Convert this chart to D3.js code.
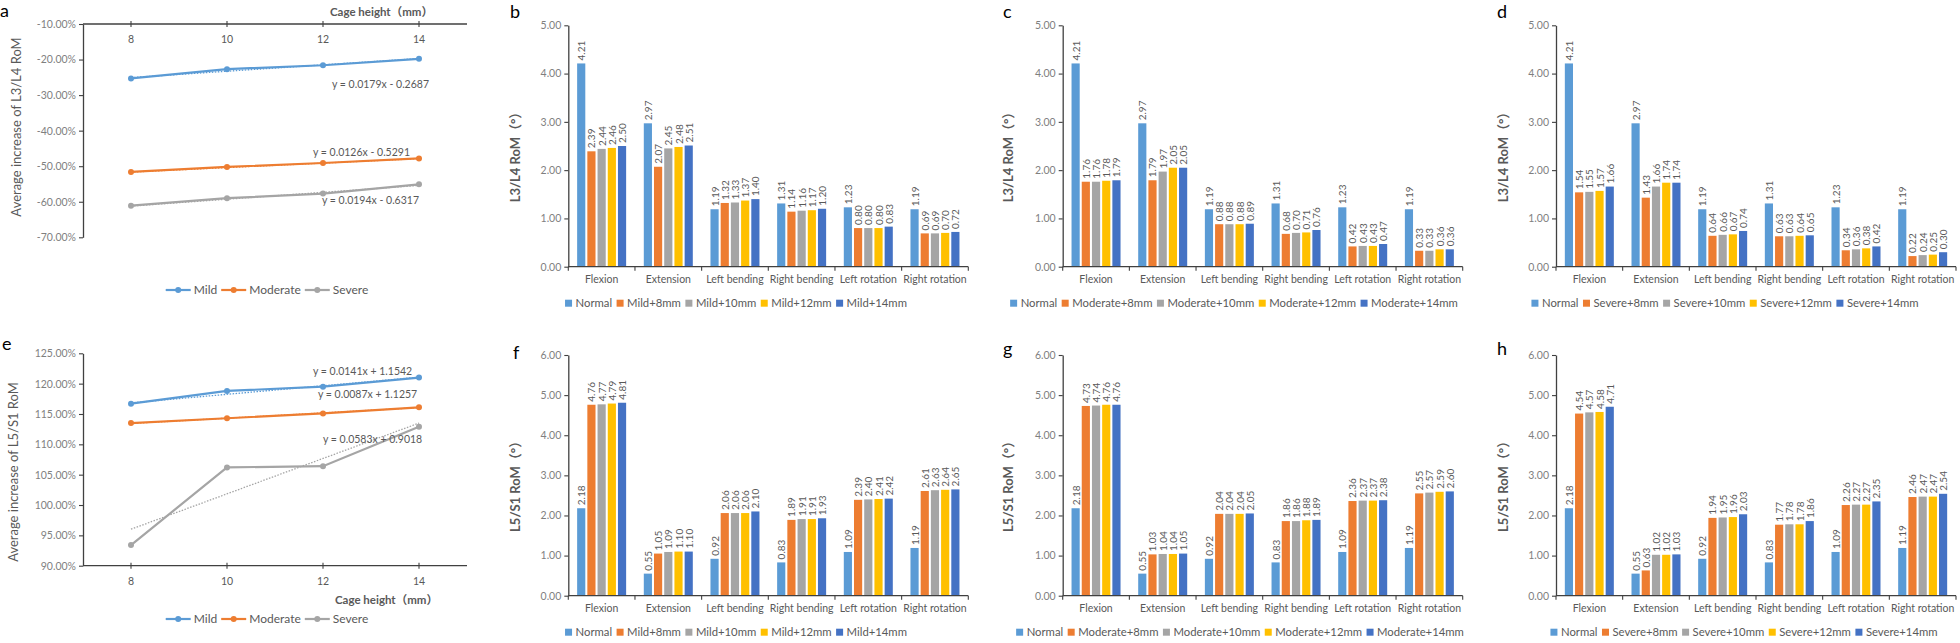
<!DOCTYPE html>
<html><head><meta charset="utf-8">
<script src="https://cdn.jsdelivr.net/npm/d3@7"></script>
<style>
body{margin:0;background:#fff;}
svg{display:block;font-family:Lato,"Open Sans","Noto Sans CJK SC",sans-serif;}
</style>
</head><body>
<svg id="chart" width="1960" height="643"></svg>
<script>
// ---------------- DATA ----------------
const categories = ["Flexion","Extension","Left bending","Right bending","Left rotation","Right rotation"];
const cageHeights = ["8","10","12","14"];
const severities = ["Mild","Moderate","Severe"];
const lineColors = ["#5b9bd5","#ed7d31","#a5a5a5"];
const barColors = ["#5b9bd5","#ed7d31","#a5a5a5","#ffc000","#4472c4"];

// Panel a: average increase of L3/L4 RoM (%)
const l34Mild     = [-25.3,-22.7,-21.6,-19.8];
const l34Moderate = [-51.6,-50.2,-49.1,-47.8];
const l34Severe   = [-61.1,-59.0,-57.7,-55.1];
const l34Slopes     = [0.0179,0.0126,0.0194];
const l34Intercepts = [-0.2687,-0.5291,-0.6317];
const l34Equations  = ["y = 0.0179x - 0.2687","y = 0.0126x - 0.5291","y = 0.0194x - 0.6317"];
const l34YTicks = [-10,-20,-30,-40,-50,-60,-70];

// Panel e: average increase of L5/S1 RoM (%)
const l5Mild     = [116.7,118.8,119.5,121.0];
const l5Moderate = [113.5,114.3,115.1,116.1];
const l5Severe   = [93.4,106.2,106.4,112.9];
const l5Slopes     = [0.0141,0.0087,0.0583];
const l5Intercepts = [1.1542,1.1257,0.9018];
const l5Equations  = ["y = 0.0141x + 1.1542","y = 0.0087x + 1.1257","y = 0.0583x + 0.9018"];
const l5YTicks = [125,120,115,110,105,100,95,90];

// L3/L4 RoM (deg)
const l34Normal   = [4.21,2.97,1.19,1.31,1.23,1.19];
const l34Mild8    = [2.39,2.07,1.32,1.14,0.80,0.69];
const l34Mild10   = [2.44,2.45,1.33,1.16,0.80,0.69];
const l34Mild12   = [2.46,2.48,1.37,1.17,0.80,0.70];
const l34Mild14   = [2.50,2.51,1.40,1.20,0.83,0.72];
const l34Mod8     = [1.76,1.79,0.88,0.68,0.42,0.33];
const l34Mod10    = [1.76,1.97,0.88,0.70,0.43,0.33];
const l34Mod12    = [1.78,2.05,0.88,0.71,0.43,0.36];
const l34Mod14    = [1.79,2.05,0.89,0.76,0.47,0.36];
const l34Sev8     = [1.54,1.43,0.64,0.63,0.34,0.22];
const l34Sev10    = [1.55,1.66,0.66,0.63,0.36,0.24];
const l34Sev12    = [1.57,1.74,0.67,0.64,0.38,0.25];
const l34Sev14    = [1.66,1.74,0.74,0.65,0.42,0.30];
const l34BarTicks = [0,1,2,3,4,5];

// L5/S1 RoM (deg)
const l5Normal   = [2.18,0.55,0.92,0.83,1.09,1.19];
const l5Mild8    = [4.76,1.05,2.06,1.89,2.39,2.61];
const l5Mild10   = [4.77,1.09,2.06,1.91,2.40,2.63];
const l5Mild12   = [4.79,1.10,2.06,1.91,2.41,2.64];
const l5Mild14   = [4.81,1.10,2.10,1.93,2.42,2.65];
const l5Mod8     = [4.73,1.03,2.04,1.86,2.36,2.55];
const l5Mod10    = [4.74,1.04,2.04,1.86,2.37,2.57];
const l5Mod12    = [4.76,1.04,2.04,1.88,2.37,2.59];
const l5Mod14    = [4.76,1.05,2.05,1.89,2.38,2.60];
const l5Sev8     = [4.54,0.63,1.94,1.77,2.26,2.46];
const l5Sev10    = [4.57,1.02,1.95,1.78,2.27,2.47];
const l5Sev12    = [4.58,1.02,1.96,1.78,2.27,2.47];
const l5Sev14    = [4.71,1.03,2.03,1.86,2.35,2.54];
const l5BarTicks = [0,1,2,3,4,5,6];

const suffixes = ["+8mm","+10mm","+12mm","+14mm"];

// ---------------- DRAWING ----------------
const svg = d3.select("#chart");
const TXT = "#595959", TICK = "#7f7f7f", AX = "#404040";

function styleAxis(sel, color, size){
  sel.select(".domain").attr("stroke", AX).attr("stroke-width", 1.3);
  sel.selectAll(".tick line").attr("stroke", AX).attr("stroke-width", 1.1);
  sel.selectAll(".tick text").attr("fill", color).style("font-size", size+"px").style("font-family","Lato,sans-serif");
}

function letter(ch, x, y){
  svg.append("text").attr("x", x).attr("y", y).text(ch)
    .attr("fill","#000").style("font-size","18px").style("font-family","Lato,sans-serif");
}

function linePanel(p){
  const g = svg.append("g");
  const x = d3.scalePoint().domain(cageHeights).range([83, 467]).padding(0.5);
  const y = d3.scaleLinear().domain(p.domain).range([p.bottom, p.top]);
  const ya = g.append("g").attr("transform","translate(83,0)")
    .call(d3.axisLeft(y).tickValues(p.yTicks).tickFormat(d => d.toFixed(2)+"%").tickSize(4).tickSizeOuter(0).tickPadding(3));
  styleAxis(ya, TICK, 10.5);
  g.append("line").attr("x1",83).attr("x2",467).attr("y1",p.xAxisY).attr("y2",p.xAxisY)
    .attr("stroke",AX).attr("stroke-width",1.3);
  g.selectAll(null).data(cageHeights).join("line")
    .attr("x1", d=>x(d)).attr("x2", d=>x(d)).attr("y1", p.xAxisY-3).attr("y2", p.xAxisY+3)
    .attr("stroke",AX).attr("stroke-width",1.1);
  g.selectAll(null).data(cageHeights).join("text")
    .attr("x", d=>x(d)).attr("y", p.xLabelY).attr("dy","0.35em").attr("text-anchor","middle")
    .attr("fill",TXT).style("font-size","10.5px").text(d=>d);
  g.append("text").attr("x", p.cageX).attr("y", p.cageY).attr("dy","0.35em")
    .attr("fill",TXT).style("font-size","11.5px").style("font-weight","bold").text("Cage height（mm）");
  g.append("text").attr("transform",`translate(${p.titleX},${p.titleY}) rotate(-90)`)
    .attr("text-anchor","middle").attr("dy","0.35em").attr("fill",TXT).style("font-size","13px").text(p.yTitle);
  p.series.forEach((s,i)=>{
    const pts = cageHeights.map((h,k)=>[x(h), y(100*(p.slopes[i]*(k+1)+p.intercepts[i]))]);
    g.append("path").attr("d", d3.line()([pts[0], pts[3]])).attr("fill","none")
      .attr("stroke", lineColors[i]).attr("stroke-width",1.3).attr("stroke-dasharray","1.5,1.5");
  });
  p.series.forEach((s,i)=>{
    g.append("path").datum(s).attr("fill","none").attr("stroke",lineColors[i]).attr("stroke-width",2.2)
      .attr("d", d3.line().x((d,k)=>x(cageHeights[k])).y(d=>y(d)));
    g.selectAll(null).data(s).join("circle").attr("cx",(d,k)=>x(cageHeights[k])).attr("cy",d=>y(d))
      .attr("r",3).attr("fill",lineColors[i]);
  });
  p.equations.forEach((e,i)=>{
    g.append("text").attr("x", p.eqPos[i][0]).attr("y", p.eqPos[i][1]).attr("dy","0.35em")
      .attr("fill",TXT).style("font-size","10.5px").text(e);
  });
  const lg = g.append("g");
  let cx = 0;
  severities.forEach((n,i)=>{
    const it = lg.append("g").attr("transform",`translate(${cx},0)`);
    it.append("line").attr("x1",0).attr("x2",25).attr("stroke",lineColors[i]).attr("stroke-width",2.2);
    it.append("circle").attr("cx",12.5).attr("r",3).attr("fill",lineColors[i]);
    const t = it.append("text").attr("x",28).attr("dy","0.35em").attr("fill",TXT).style("font-size","12px").text(n);
    cx += 28 + t.node().getComputedTextLength() + 4;
  });
  lg.attr("transform",`translate(${p.legendX - (cx-4)/2},${p.legendY})`);
  letter(p.letter, p.letterX, p.letterY);
}

function barPanel(p){
  const g = svg.append("g");
  const x0 = d3.scaleBand().domain(categories).range([p.left, p.left+400]).paddingInner(0.265).paddingOuter(0.1325);
  const keys = p.series.map(s=>s.name);
  const x1 = d3.scaleBand().domain(keys).range([0, x0.bandwidth()]).paddingInner(0.2);
  const y = d3.scaleLinear().domain([0, d3.max(p.yTicks)]).range([p.bottom, p.top]);
  p.series.forEach((s,i)=>{
    g.selectAll(null).data(s.values).join("rect")
      .attr("x",(d,j)=>x0(categories[j])+x1(s.name)).attr("width",x1.bandwidth())
      .attr("y",d=>y(d)).attr("height",d=>y(0)-y(d)).attr("fill",barColors[i]);
    g.selectAll(null).data(s.values).join("text")
      .attr("transform",(d,j)=>`translate(${x0(categories[j])+x1(s.name)+x1.bandwidth()/2+0.5},${y(d)-3}) rotate(-90)`)
      .attr("dy","0.35em").attr("fill",TXT).style("font-size","10px").text(d=>d.toFixed(2));
  });
  const ya = g.append("g").attr("transform",`translate(${p.left},0)`)
    .call(d3.axisLeft(y).tickValues(p.yTicks).tickFormat(d=>d.toFixed(2)).tickSize(4).tickSizeOuter(0).tickPadding(3));
  styleAxis(ya, TICK, 10.5);
  const xa = g.append("g").attr("transform",`translate(0,${p.bottom})`)
    .call(d3.axisBottom(x0).tickSize(0).tickPadding(9));
  xa.select(".domain").remove();
  styleAxis(xa, TXT, 10.5);
  g.append("line").attr("x1",p.left).attr("x2",p.left+400).attr("y1",p.bottom).attr("y2",p.bottom)
    .attr("stroke",AX).attr("stroke-width",1.3);
  const bounds = categories.map(c=>x0(c)-x0.step()*x0.paddingInner()/2).concat([p.left+400]);
  g.selectAll(null).data(bounds).join("line").attr("x1",d=>d).attr("x2",d=>d)
    .attr("y1",p.bottom).attr("y2",p.bottom+4).attr("stroke",AX).attr("stroke-width",1.1);
  g.append("text").attr("transform",`translate(${p.titleX},${(p.top+p.bottom)/2+8}) rotate(-90)`)
    .attr("text-anchor","middle").attr("dy","0.35em").attr("fill",TXT)
    .style("font-size","13px").style("font-weight","bold").text(p.yTitle);
  const lg = g.append("g");
  let cx = 0;
  p.series.forEach((s,i)=>{
    const it = lg.append("g").attr("transform",`translate(${cx},0)`);
    it.append("rect").attr("x",0).attr("y",-3.5).attr("width",7).attr("height",7).attr("fill",barColors[i]);
    const t = it.append("text").attr("x",10.5).attr("dy","0.35em").attr("fill",TXT).style("font-size","11.3px").text(s.name);
    cx += 10.5 + t.node().getComputedTextLength() + 4.5;
  });
  lg.attr("transform",`translate(${p.legendX-(cx-4.5)/2},${p.bottom+36.5})`);
  letter(p.letter, p.letterX, p.letterY);
}

function mk(sev, arrs, normal){
  return [{name:"Normal", values:normal}].concat(arrs.map((a,i)=>({name:sev+suffixes[i], values:a})));
}

linePanel({letter:"a", letterX:0, letterY:17, domain:[-70,-10], yTicks:l34YTicks, top:24, bottom:237.3,
  xAxisY:24, xLabelY:39, cageX:330, cageY:12, yTitle:"Average increase of L3/L4 RoM", titleX:16, titleY:127,
  series:[l34Mild,l34Moderate,l34Severe], slopes:l34Slopes, intercepts:l34Intercepts, equations:l34Equations,
  eqPos:[[332,84],[313,152],[322,200]], legendX:267, legendY:290});

linePanel({letter:"e", letterX:2, letterY:350, domain:[90,125], yTicks:l5YTicks, top:353.3, bottom:565.7,
  xAxisY:565.7, xLabelY:581, cageX:335, cageY:600, yTitle:"Average increase of L5/S1 RoM", titleX:13, titleY:472,
  series:[l5Mild,l5Moderate,l5Severe], slopes:l5Slopes, intercepts:l5Intercepts, equations:l5Equations,
  eqPos:[[313,371.7],[318,394.3],[323,439]], legendX:267, legendY:619});

barPanel({letter:"b", letterX:510, letterY:18, left:568.3, top:25.3, bottom:266.7, yTicks:l34BarTicks,
  yTitle:"L3/L4 RoM（°）", titleX:515, legendX:736,
  series:mk("Mild",[l34Mild8,l34Mild10,l34Mild12,l34Mild14], l34Normal)});
barPanel({letter:"c", letterX:1003, letterY:18, left:1062.7, top:25.3, bottom:266.7, yTicks:l34BarTicks,
  yTitle:"L3/L4 RoM（°）", titleX:1008, legendX:1234,
  series:mk("Moderate",[l34Mod8,l34Mod10,l34Mod12,l34Mod14], l34Normal)});
barPanel({letter:"d", letterX:1497, letterY:18, left:1556, top:25.3, bottom:266.7, yTicks:l34BarTicks,
  yTitle:"L3/L4 RoM（°）", titleX:1503, legendX:1725,
  series:mk("Severe",[l34Sev8,l34Sev10,l34Sev12,l34Sev14], l34Normal)});

barPanel({letter:"f", letterX:513, letterY:359, left:568.3, top:355, bottom:595.7, yTicks:l5BarTicks,
  yTitle:"L5/S1 RoM（°）", titleX:515, legendX:736,
  series:mk("Mild",[l5Mild8,l5Mild10,l5Mild12,l5Mild14], l5Normal)});
barPanel({letter:"g", letterX:1003, letterY:355, left:1062.7, top:355, bottom:595.7, yTicks:l5BarTicks,
  yTitle:"L5/S1 RoM（°）", titleX:1008, legendX:1240,
  series:mk("Moderate",[l5Mod8,l5Mod10,l5Mod12,l5Mod14], l5Normal)});
barPanel({letter:"h", letterX:1497, letterY:355, left:1556, top:355, bottom:595.7, yTicks:l5BarTicks,
  yTitle:"L5/S1 RoM（°）", titleX:1503, legendX:1744,
  series:mk("Severe",[l5Sev8,l5Sev10,l5Sev12,l5Sev14], l5Normal)});
</script>
</body></html>
